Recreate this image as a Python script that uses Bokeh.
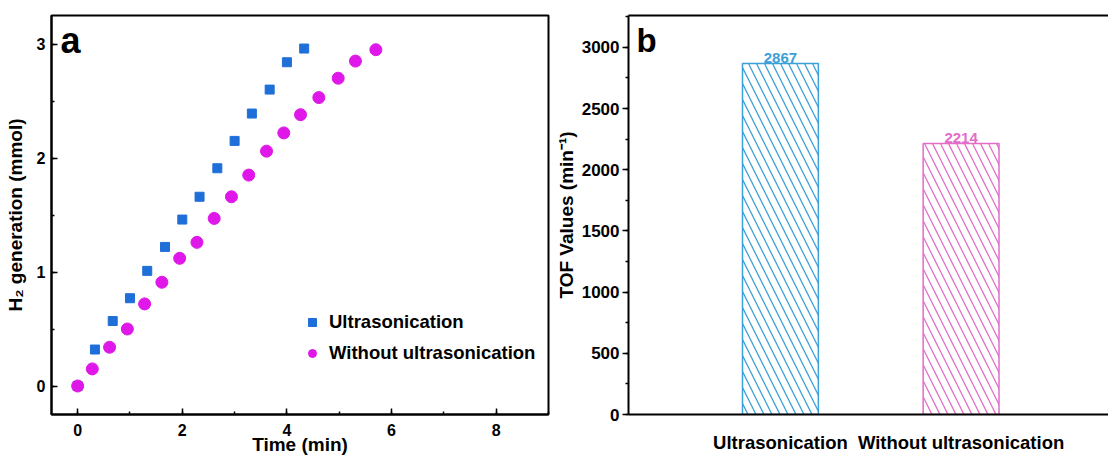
from bokeh.plotting import figure
from bokeh.models import (Range1d, SingleIntervalTicker, FixedTicker, LinearAxis,
                          Legend, LegendItem, Label, ColumnDataSource)
from bokeh.core.properties import value
from bokeh.layouts import row
from bokeh.embed import file_html
from bokeh.resources import INLINE

# H2 evolution over time (panel a)
time_us = [0, 0.33, 0.67, 1.0, 1.33, 1.67, 2.0, 2.33, 2.67, 3.0, 3.33, 3.67, 4.0, 4.33]
h2_us = [0, 0.32, 0.57, 0.77, 1.01, 1.22, 1.46, 1.66, 1.91, 2.15, 2.39, 2.60, 2.84, 2.96]

time_wo = [0, 0.28, 0.61, 0.95, 1.28, 1.61, 1.95, 2.28, 2.61, 2.94, 3.27, 3.61,
           3.94, 4.26, 4.61, 4.98, 5.31, 5.70]
h2_wo = [0, 0.15, 0.34, 0.50, 0.72, 0.91, 1.12, 1.26, 1.47, 1.66, 1.85, 2.06,
         2.22, 2.38, 2.53, 2.70, 2.85, 2.95]

# Turnover frequency (panel b)
categories = ["Ultrasonication", "Without ultrasonication"]
tof_values = [2867, 2214]

FONT = "Liberation Sans"
BLUE_PT = "#1f6fd8"
MAGENTA_PT = "#df17e9"
BLUE_BAR = "#3ca0d8"
PINK_BAR = "#e26cc8"


def style_axis(ax, tick_size, label_size, inward=True):
    ax.axis_line_color = "black"
    ax.axis_line_width = 2
    ax.major_tick_line_color = "black"
    ax.major_tick_line_width = 1.5
    ax.minor_tick_line_color = "black"
    ax.minor_tick_line_width = 1.5
    if inward:
        ax.major_tick_in, ax.major_tick_out = 6, 0
        ax.minor_tick_in, ax.minor_tick_out = 3, 0
    else:
        ax.major_tick_in, ax.major_tick_out = 0, 6
        ax.minor_tick_in, ax.minor_tick_out = 0, 3
    ax.major_label_text_font = FONT
    ax.major_label_text_font_style = "bold"
    ax.major_label_text_font_size = tick_size
    ax.major_label_text_color = "black"
    ax.axis_label_text_font = FONT
    ax.axis_label_text_font_style = "bold"
    ax.axis_label_text_font_size = label_size
    ax.axis_label_text_color = "black"


# ---- panel a ----
p1 = figure(width=552, height=459, x_range=Range1d(-0.5, 9.0), y_range=Range1d(-0.25, 3.25),
            output_backend="svg", toolbar_location=None,
            min_border_left=51, min_border_right=4, min_border_top=14, min_border_bottom=45)
p1.grid.visible = False
p1.outline_line_color = "black"
p1.outline_line_width = 2
p1.background_fill_color = "white"
p1.border_fill_color = "white"

p1.xaxis.ticker = SingleIntervalTicker(interval=2, num_minor_ticks=2)
p1.yaxis.ticker = SingleIntervalTicker(interval=1, num_minor_ticks=2)
style_axis(p1.xaxis[0], "16px", "19px")
style_axis(p1.yaxis[0], "16px", "19px")
p1.xaxis.axis_label = "Time (min)"
p1.yaxis.axis_label = "H\u2082 generation (mmol)"
p1.xaxis.major_label_standoff = 9
p1.xaxis.axis_label_standoff = -5
p1.yaxis.major_label_standoff = 6
p1.yaxis.axis_label_standoff = 8

r_us = p1.scatter(time_us, h2_us, marker="square", size=9, color=BLUE_PT)
r_wo = p1.scatter(time_wo, h2_wo, marker="circle", size=12, color=MAGENTA_PT)

legend = Legend(items=[LegendItem(label="Ultrasonication", renderers=[r_us]),
                       LegendItem(label="Without ultrasonication", renderers=[r_wo])],
                location=(251, 50), padding=0, spacing=9, margin=0,
                glyph_width=20, glyph_height=20, label_height=20, label_standoff=7,
                border_line_color=None, background_fill_alpha=0,
                label_text_font=FONT, label_text_font_style="bold",
                label_text_font_size="18.5px", label_text_color="black")
p1.add_layout(legend, "center")

p1.add_layout(Label(x=9, y=374, x_units="screen", y_units="screen", text="a",
                    text_font=FONT, text_font_style="bold", text_font_size="36px",
                    text_color="black", text_baseline="alphabetic"))

# ---- panel b ----
xs = [i + 1 for i in range(len(categories))]
src = ColumnDataSource(dict(x=xs, top=tof_values, label=[str(v) for v in tof_values],
                            color=[BLUE_BAR, PINK_BAR]))

p2 = figure(width=556, height=459, x_range=Range1d(0.159, 2.816), y_range=Range1d(0, 3260),
            output_backend="svg", toolbar_location=None,
            min_border_left=70, min_border_right=0, min_border_top=15, min_border_bottom=42)
p2.grid.visible = False
p2.outline_line_color = None
p2.background_fill_color = "white"
p2.border_fill_color = "white"

p2.xaxis.ticker = FixedTicker(ticks=xs)
p2.xaxis.major_label_overrides = {x: c for x, c in zip(xs, categories)}
p2.yaxis.ticker = SingleIntervalTicker(interval=500, num_minor_ticks=2)
style_axis(p2.xaxis[0], "18.5px", "19px", inward=False)
style_axis(p2.yaxis[0], "17px", "19px", inward=False)
p2.xaxis.major_tick_line_color = None
p2.xaxis.minor_tick_line_color = None
p2.xaxis.major_label_standoff = 11
p2.yaxis.major_label_standoff = 3
p2.yaxis.axis_label = "TOF Values (min\u207b\u00b9)"
p2.yaxis.axis_label_standoff = 2

top_axis = LinearAxis(ticker=FixedTicker(ticks=[]), axis_line_color="black", axis_line_width=2,
                      major_tick_line_color=None, minor_tick_line_color=None,
                      major_label_text_color=None)
p2.add_layout(top_axis, "above")

p2.vbar(x="x", top="top", width=0.42, source=src, fill_color="white",
        line_color="color", line_width=1.5,
        hatch_pattern="\\", hatch_color="color", hatch_scale=16, hatch_weight=1.3)
p2.text(x="x", y="top", text="label", source=src, text_color="color",
        text_font=value(FONT), text_font_style="bold", text_font_size="15px",
        text_align="center", text_baseline="bottom", y_offset=-1)

p2.add_layout(Label(x=8, y=374, x_units="screen", y_units="screen", text="b",
                    text_font=FONT, text_font_style="bold", text_font_size="33px",
                    text_color="black", text_baseline="alphabetic"))

layout = row(p1, p2)
open("out.html", "w").write(file_html(layout, INLINE))
